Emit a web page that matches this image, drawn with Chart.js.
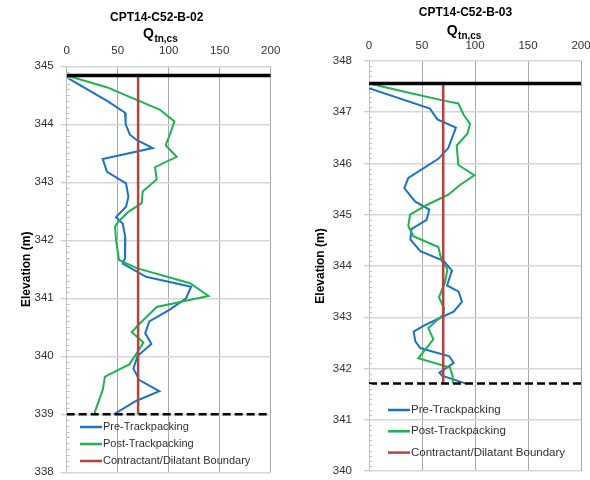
<!DOCTYPE html>
<html><head><meta charset="utf-8">
<script src="https://cdn.jsdelivr.net/npm/chart.js@4.4.1/dist/chart.umd.min.js"></script>
<style>
html,body{margin:0;padding:0;width:590px;height:480px;overflow:hidden;background:#fff;}
#w1{position:absolute;left:0;top:0;width:295px;height:490px;}
#w2{position:absolute;left:295px;top:0;width:305px;height:490px;}
</style></head><body>
<div id="w1"><canvas id="c1" width="295" height="490"></canvas></div>
<div id="w2"><canvas id="c2" width="305" height="490"></canvas></div>
<script>
// ---------- shared ----------
const seriesLabels = ['Pre-Trackpacking', 'Post-Trackpacking', 'Contractant/Dilatant Boundary'];
const xAxisMain = 'Q';
const xAxisSub = 'tn,cs';
const yAxisTitle = 'Elevation (m)';
const xTickValues = [0, 50, 100, 150, 200];
const boundaryQ = 70;

// ---------- CPT14-C52-B-02 ----------
const titleB02 = 'CPT14-C52-B-02';
const yRangeB02 = [338, 345];
const groundB02 = 344.84;
const baseB02 = 339.0;
const elevPreB02 = [344.81,344.39,344.20,344.00,343.82,343.73,343.59,343.40,343.18,342.98,342.75,342.58,342.40,342.29,342.05,341.69,341.60,341.37,341.20,341.00,340.80,340.60,340.40,340.21,340.01,339.79,339.59,339.40,339.23,339.00];
const qPreB02    = [0,40.8,57.2,57.8,62,68.6,84.3,35.3,39.5,58.2,60.5,58.2,48.4,54.9,57.5,57.2,54.9,77.8,122,117,100.7,81,77,83,69.6,65.4,71.2,90.8,68,46.1];
const elevPostB02 = [344.84,344.64,344.42,344.25,344.05,343.83,343.64,343.44,343.26,343.05,342.84,342.64,342.49,342.32,342.24,342.00,341.66,341.52,341.26,341.04,340.85,340.57,340.42,340.24,340.05,339.86,339.65,339.42,339.05,339.00];
const qPostB02    = [0,39.2,68.6,91.5,105.6,101.3,97,107.8,86.6,88.2,74.5,73.5,60.5,50.6,47.4,48.4,51.3,68.6,121,139,88.2,71.9,63.7,75.2,68.6,61.4,37.5,35.3,27.8,27.5];

// ---------- CPT14-C52-B-03 ----------
const titleB03 = 'CPT14-C52-B-03';
const yRangeB03 = [340, 348];
const groundB03 = 347.56;
const baseB03 = 341.71;
const elevPreB03 = [347.47,347.07,346.86,346.70,346.30,346.09,345.72,345.52,345.26,345.10,344.90,344.72,344.52,344.29,344.10,343.91,343.62,343.50,343.30,343.11,343.02,342.85,342.72,342.53,342.40,342.24,342.11,341.92,341.86,341.71];
const qPreB03    = [0,57.5,64.5,82,74.8,65.4,37.1,33.3,43.4,56.9,54.4,40,39,48.4,70.4,78.3,73.6,84.6,87.7,79.9,70.4,53.1,42.1,43.7,48.4,75.8,79.9,66.4,68.9,90.9];
const elevPostB03 = [347.56,347.36,347.22,347.17,346.96,346.77,346.58,346.35,345.97,345.77,345.58,345.39,345.19,345.00,344.78,344.58,344.37,344.10,343.94,343.68,343.39,343.17,343.05,342.79,342.57,342.20,342.02,341.84,341.71];
const qPostB03    = [0,41.8,71.7,84.3,89,95.3,92.8,82.7,84.3,99.4,85.8,74.8,54.4,38.7,37.1,41.8,65.4,68.6,74,71.7,66,70.8,70,56,60.7,46.5,76.4,79,79];

// ---------- styling ----------
const FAMILY = "'Liberation Sans', Arial, sans-serif";
Chart.defaults.font.family = FAMILY;
Chart.defaults.color = '#404040';
const COL_PRE = '#1a73c6';
const COL_POST = '#1db34f';
const COL_RED = '#b5423d';

function pts(xs, ys) { return xs.map((v, i) => ({x: v, y: ys[i]})); }

function makeChart(canvasId, g) {
  const datasets = [
    {label: 'ground', data: [{x: 0, y: g.ground}, {x: 200, y: g.ground}], borderColor: '#000', borderWidth: 3.5, order: 0},
    {label: 'base', data: [{x: 0, y: g.base}, {x: 200, y: g.base}], borderColor: '#000', borderWidth: 2.5, borderDash: [8, 4], order: 1},
    {label: seriesLabels[2], data: [{x: boundaryQ, y: g.ground}, {x: boundaryQ, y: g.base}], borderColor: COL_RED, borderWidth: 2.5, order: 2},
    {label: seriesLabels[0], data: pts(g.qPre, g.elevPre), borderColor: COL_PRE, borderWidth: 2, order: 4},
    {label: seriesLabels[1], data: pts(g.qPost, g.elevPost), borderColor: COL_POST, borderWidth: 2, order: 3}
  ];
  datasets.forEach(d => { d.showLine = true; d.pointRadius = 0; d.pointHoverRadius = 0; d.tension = 0; d.fill = false; d.backgroundColor = d.borderColor; });

  const decor = {
    id: 'decor_' + canvasId,
    afterDatasetsDraw(chart) {
      const ctx = chart.ctx, ys = chart.scales.y, ca = chart.chartArea;
      ctx.save();
      ctx.strokeStyle = '#bfbfbf'; ctx.lineWidth = 1;
      for (let k = Math.round(ys.min * 10); k <= Math.round(ys.max * 10); k++) {
        if (k % 10 === 0) continue;
        const py = Math.round(ys.getPixelForValue(k / 10)) + 0.5;
        ctx.beginPath(); ctx.moveTo(ca.left, py); ctx.lineTo(ca.left + 3, py); ctx.stroke();
      }
      ctx.restore();
    },
    afterDraw(chart) {
      const ctx = chart.ctx;
      ctx.save();
      ctx.fillStyle = '#000';
      ctx.textBaseline = 'alphabetic';
      ctx.font = 'bold 12px ' + FAMILY;
      ctx.textAlign = 'center';
      ctx.fillText(g.title, g.titleX, g.titleY);
      ctx.textAlign = 'left';
      ctx.font = 'bold 14px ' + FAMILY;
      ctx.fillText(xAxisMain, g.qX, g.qY);
      const w = ctx.measureText(xAxisMain).width;
      ctx.font = 'bold 10px ' + FAMILY;
      ctx.fillText(xAxisSub, g.qX + w + 0.5, g.qY + 4);
      ctx.font = g.legSize + 'px ' + FAMILY;
      ctx.textBaseline = 'middle';
      const items = [chart.data.datasets[3], chart.data.datasets[4], chart.data.datasets[2]];
      items.forEach((ds, i) => {
        const y = g.legY0 + i * g.legDy;
        ctx.strokeStyle = ds.borderColor; ctx.lineWidth = 2.5;
        ctx.beginPath(); ctx.moveTo(g.legX0, y); ctx.lineTo(g.legX1, y); ctx.stroke();
        ctx.fillStyle = '#303030';
        ctx.fillText(ds.label, g.legX1 + 1, y);
      });
      ctx.restore();
    }
  };

  return new Chart(document.getElementById(canvasId), {
    type: 'scatter',
    data: {datasets},
    options: {
      responsive: false, animation: false, devicePixelRatio: 1,
      layout: {padding: {left: g.padL, right: g.padR, top: 0, bottom: g.padB}},
      plugins: {legend: {display: false}, tooltip: {enabled: false}, title: {display: false}},
      scales: {
        x: {
          type: 'linear', position: 'top', min: 0, max: 200,
          afterBuildTicks(s) { s.ticks = xTickValues.map(v => ({value: v})); },
          afterFit(s) { s.height = g.xH; },
          grid: {color: '#a8a8a8', lineWidth: 1, drawTicks: false},
          border: {display: false},
          ticks: {padding: 8.5, font: {size: 11.5}, color: '#303030', maxRotation: 0}
        },
        y: {
          type: 'linear', min: g.yRange[0], max: g.yRange[1],
          ticks: {stepSize: 1, padding: g.yTickPad, font: {size: 11.5}, color: '#303030'},
          afterFit(s) { s.width = g.yW; },
          grid: {color: '#d6d6d6', lineWidth: 1.5, tickLength: g.yTickLen, tickColor: '#bfbfbf', tickWidth: 1},
          border: {display: true, color: '#bfbfbf', width: 1},
          title: {display: true, text: yAxisTitle, color: '#000', font: {size: 12, weight: 'bold'}, padding: {top: 0, bottom: 0}}
        }
      }
    },
    plugins: [decor]
  });
}

makeChart('c1', {
  title: titleB02, titleX: 156.7, titleY: 21.3, qX: 143, qY: 38,
  yRange: yRangeB02, ground: groundB02, base: baseB02,
  elevPre: elevPreB02, qPre: qPreB02, elevPost: elevPostB02, qPost: qPostB02,
  padL: 19.5, yW: 47.2, padR: 24.3, xH: 66.3, padB: 17.7, yTickPad: 7, yTickLen: 6,
  legX0: 80, legX1: 102, legY0: 427, legDy: 17, legSize: 11
});
makeChart('c2', {
  title: titleB03, titleX: 170.5, titleY: 16.3, qX: 151.7, qY: 35,
  yRange: yRangeB03, ground: groundB03, base: baseB03,
  elevPre: elevPreB03, qPre: qPreB03, elevPost: elevPostB03, qPost: qPostB03,
  padL: 18.8, yW: 55.2, padR: 19, xH: 60.9, padB: 13.1, yTickPad: 12, yTickLen: 5,
  legX0: 93, legX1: 115, legY0: 410, legDy: 21.3, legSize: 11.5
});
</script>
</body></html>
